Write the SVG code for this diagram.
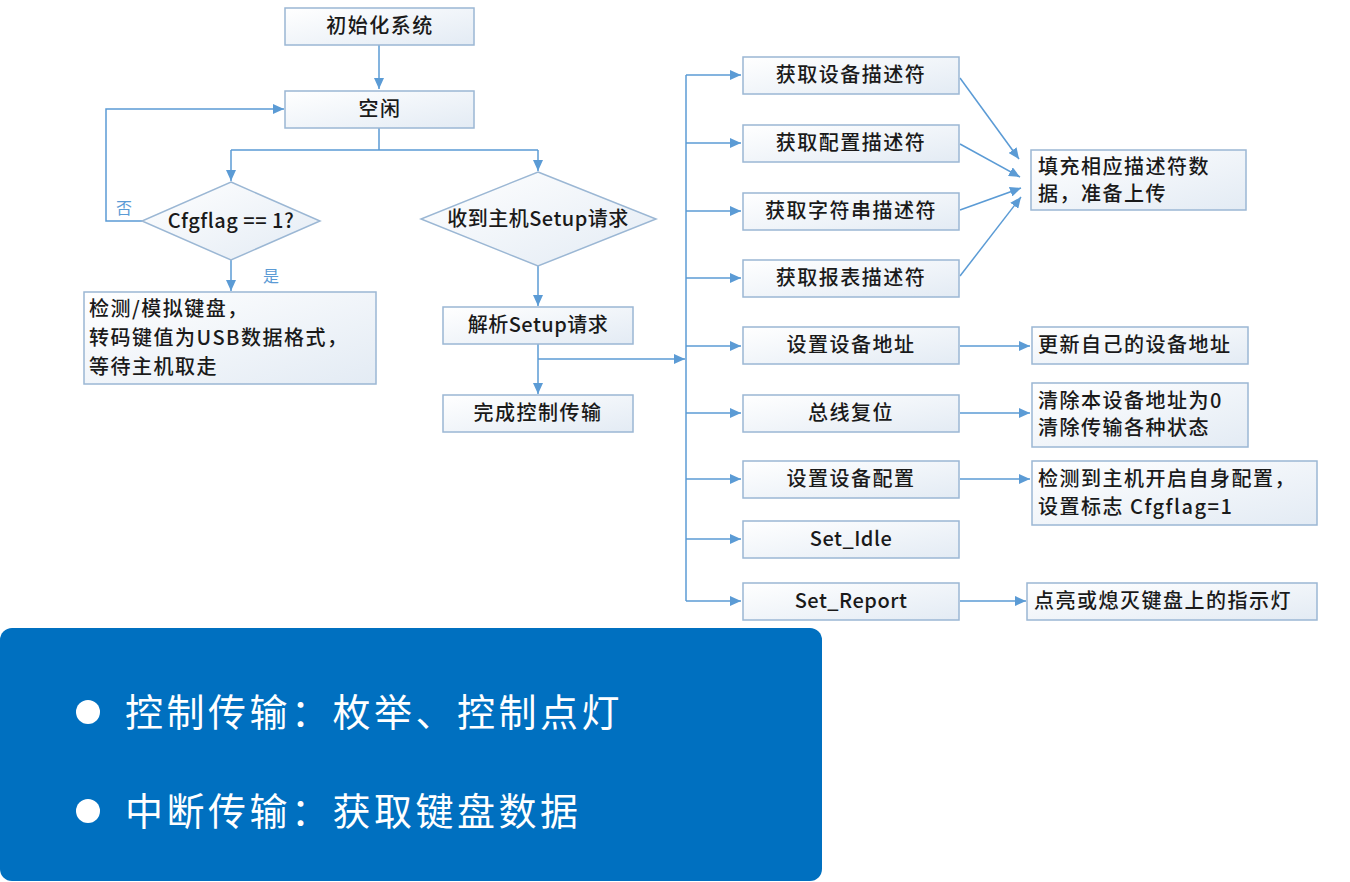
<svg xmlns="http://www.w3.org/2000/svg" width="1350" height="882" viewBox="0 0 1350 882">
<style>
.box{fill:url(#g);stroke:#9bb7d4;stroke-width:1.5}
.t{font-family:"Noto Sans CJK SC","Microsoft YaHei",sans-serif;font-size:20px;font-weight:500;fill:#1a1a1a;letter-spacing:1.5px}
.c{text-anchor:middle}
.ln{fill:none;stroke:#5b9bd5;stroke-width:1.5}
.lb{font-family:"Noto Sans CJK SC",sans-serif;font-size:16px;fill:#5b9bd5}
.big{font-family:"Noto Sans CJK SC",sans-serif;font-size:38px;fill:#ffffff;letter-spacing:3.5px}
</style>
<defs>
<linearGradient id="g" x1="0" y1="0" x2="1" y2="1">
<stop offset="0" stop-color="#ffffff"/>
<stop offset="1" stop-color="#e3ebf4"/>
</linearGradient>
<marker id="a" markerUnits="userSpaceOnUse" markerWidth="12" markerHeight="10" refX="11" refY="5" orient="auto">
<path d="M0,0 L11,5 L0,10 z" fill="#5b9bd5"/>
</marker>
</defs>
<rect width="1350" height="882" fill="#ffffff"/>

<g id="connectors">
<path class="ln" d="M379,45 V89" marker-end="url(#a)"/>
<path class="ln" d="M379,128 V150 M231,150 H538"/>
<path class="ln" d="M231,150 V181" marker-end="url(#a)"/>
<path class="ln" d="M538,150 V171" marker-end="url(#a)"/>
<path class="ln" d="M142,221 H106 V109 H284" marker-end="url(#a)"/>
<path class="ln" d="M231,260 V291" marker-end="url(#a)"/>
<path class="ln" d="M538,266 V306" marker-end="url(#a)"/>
<path class="ln" d="M538,344 V394" marker-end="url(#a)"/>
<path class="ln" d="M538,359 H685" marker-end="url(#a)"/>
<path class="ln" d="M686,75 V601"/>
<path class="ln" d="M686,75 H741" marker-end="url(#a)"/>
<path class="ln" d="M686,143 H741" marker-end="url(#a)"/>
<path class="ln" d="M686,211 H741" marker-end="url(#a)"/>
<path class="ln" d="M686,278 H741" marker-end="url(#a)"/>
<path class="ln" d="M686,346 H741" marker-end="url(#a)"/>
<path class="ln" d="M686,413 H741" marker-end="url(#a)"/>
<path class="ln" d="M686,479 H741" marker-end="url(#a)"/>
<path class="ln" d="M686,539 H741" marker-end="url(#a)"/>
<path class="ln" d="M686,601 H741" marker-end="url(#a)"/>
<path class="ln" d="M960,78 L1019,159" marker-end="url(#a)"/>
<path class="ln" d="M960,144 L1020,177" marker-end="url(#a)"/>
<path class="ln" d="M960,210 L1021,188" marker-end="url(#a)"/>
<path class="ln" d="M960,276 L1021,197" marker-end="url(#a)"/>
<path class="ln" d="M960,346 H1030" marker-end="url(#a)"/>
<path class="ln" d="M960,413 H1030" marker-end="url(#a)"/>
<path class="ln" d="M960,479 H1030" marker-end="url(#a)"/>
<path class="ln" d="M960,601 H1026" marker-end="url(#a)"/>
<text class="lb" x="116" y="214">否</text>
<text class="lb" x="263" y="282">是</text>
</g>

<g id="n-init"><rect class="box" x="285" y="8" width="189" height="37"/><text class="t c" x="380" y="33">初始化系统</text></g>
<g id="n-idle"><rect class="box" x="285" y="91" width="189" height="37"/><text class="t c" x="380" y="116">空闲</text></g>
<g id="n-cfg"><polygon class="box" points="231,182 320,221 231,260 142,221"/><text class="t c" x="231" y="228" style="letter-spacing:0.5px">Cfgflag == 1?</text></g>
<g id="n-setup"><polygon class="box" points="538,172 656,219 538,266 421,219"/><text class="t c" x="538" y="226" style="letter-spacing:0.5px">收到主机Setup请求</text></g>
<g id="n-kbd"><rect class="box" x="84" y="292" width="292" height="92"/>
<text class="t" x="89" y="316">检测/模拟键盘，</text>
<text class="t" x="89" y="345">转码键值为USB数据格式，</text>
<text class="t" x="89" y="374">等待主机取走</text></g>
<g id="n-parse"><rect class="box" x="443" y="307" width="190" height="37"/><text class="t c" x="538" y="332" style="letter-spacing:0.5px">解析Setup请求</text></g>
<g id="n-done"><rect class="box" x="443" y="395" width="190" height="37"/><text class="t c" x="538" y="420">完成控制传输</text></g>

<g id="n-r1"><rect class="box" x="743" y="57" width="216" height="37"/><text class="t c" x="851" y="82">获取设备描述符</text></g>
<g id="n-r2"><rect class="box" x="743" y="125" width="216" height="37"/><text class="t c" x="851" y="150">获取配置描述符</text></g>
<g id="n-r3"><rect class="box" x="743" y="193" width="216" height="37"/><text class="t c" x="851" y="218">获取字符串描述符</text></g>
<g id="n-r4"><rect class="box" x="743" y="260" width="216" height="37"/><text class="t c" x="851" y="285">获取报表描述符</text></g>
<g id="n-r5"><rect class="box" x="743" y="327" width="216" height="37"/><text class="t c" x="851" y="352">设置设备地址</text></g>
<g id="n-r6"><rect class="box" x="743" y="395" width="216" height="37"/><text class="t c" x="851" y="420">总线复位</text></g>
<g id="n-r7"><rect class="box" x="743" y="461" width="216" height="37"/><text class="t c" x="851" y="486">设置设备配置</text></g>
<g id="n-r8"><rect class="box" x="743" y="521" width="216" height="37"/><text class="t c" x="851" y="546" style="letter-spacing:0.5px">Set_Idle</text></g>
<g id="n-r9"><rect class="box" x="743" y="583" width="216" height="37"/><text class="t c" x="851" y="608" style="letter-spacing:0.5px">Set_Report</text></g>

<g id="n-fill"><rect class="box" x="1031" y="150" width="215" height="60"/>
<text class="t" x="1038" y="174">填充相应描述符数</text>
<text class="t" x="1038" y="201">据，准备上传</text></g>
<g id="n-addr"><rect class="box" x="1032" y="327" width="216" height="37"/><text class="t" x="1038" y="352">更新自己的设备地址</text></g>
<g id="n-reset"><rect class="box" x="1032" y="383" width="216" height="64"/>
<text class="t" x="1038" y="408">清除本设备地址为0</text>
<text class="t" x="1038" y="435">清除传输各种状态</text></g>
<g id="n-conf"><rect class="box" x="1032" y="461" width="285" height="64"/>
<text class="t" x="1038" y="486">检测到主机开启自身配置，</text>
<text class="t" x="1038" y="514">设置标志 Cfgflag=1</text></g>
<g id="n-led"><rect class="box" x="1027" y="583" width="290" height="37"/><text class="t" x="1034" y="608">点亮或熄灭键盘上的指示灯</text></g>

<g id="panel">
<rect x="0" y="628" width="822" height="253" rx="12" ry="12" fill="#0070c0"/>
<circle cx="88" cy="712" r="12" fill="#ffffff"/>
<circle cx="88" cy="811" r="12" fill="#ffffff"/>
<text class="big" x="125" y="726">控制传输：枚举、控制点灯</text>
<text class="big" x="125" y="825">中断传输：获取键盘数据</text>
</g>
</svg>
